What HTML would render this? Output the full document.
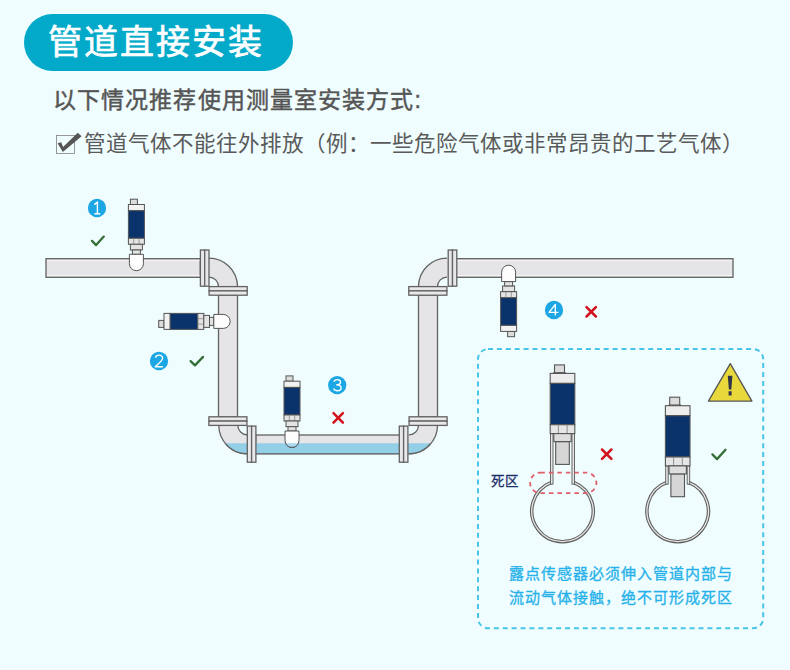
<!DOCTYPE html>
<html lang="zh-CN"><head><meta charset="utf-8">
<style>
html,body{margin:0;padding:0;}
body{width:790px;height:670px;overflow:hidden;background:#effdfe;position:relative;font-family:"Liberation Sans",sans-serif;}
.pill{position:absolute;left:24px;top:14px;width:269px;height:57px;border-radius:28.5px;background:#02a9c9;}
.t{position:absolute;white-space:nowrap;line-height:1;}
#title{left:47.5px;top:24.5px;font-size:34px;letter-spacing:2.1px;color:#fff;-webkit-text-stroke:0.7px #fff;}
#l2{left:53px;top:89px;font-size:23px;letter-spacing:1.1px;color:#555;-webkit-text-stroke:0.45px #555;}
#l3{left:84.3px;top:134px;font-size:21.5px;color:#5a5a5a;}
#dz{left:490.5px;top:474.5px;font-size:13.5px;letter-spacing:1px;color:#1b2e68;-webkit-text-stroke:0.3px #1b2e68;}
#n1{left:508.5px;top:562px;font-size:15px;letter-spacing:1.05px;color:#26b1ea;-webkit-text-stroke:0.3px #26b1ea;line-height:23.5px;}
svg{position:absolute;left:0;top:0;}
</style></head><body>
<div class="pill"></div>
<div class="t" id="title">管道直接安装</div>
<div class="t" id="l2">以下情况推荐使用测量室安装方式:</div>
<div class="t" id="l3">管道气体不能往外排放（例：一些危险气体或非常昂贵的工艺气体）</div>
<div class="t" id="dz">死区</div>
<div class="t" id="n1">露点传感器必须伸入管道内部与<br>流动气体接触，绝不可形成死区</div>
<svg width="790" height="670" viewBox="0 0 790 670">
<defs><g id="sen"><rect x="-6" y="0.5" width="7" height="5.3" fill="#dcdcdc" stroke="#555" stroke-width="1"/>
<rect x="-8" y="5.8" width="16" height="6.2" fill="#f2f2f2" stroke="#555" stroke-width="1"/>
<rect x="-8" y="12" width="16" height="27.6" fill="#0a336c" stroke="#555" stroke-width="1"/>
<rect x="-8" y="39.6" width="16" height="6" fill="#e4e4e4" stroke="#555" stroke-width="1"/>
<line x1="-2.7" y1="39.6" x2="-2.7" y2="45.6" stroke="#888" stroke-width="0.8"/>
<line x1="2.7" y1="39.6" x2="2.7" y2="45.6" stroke="#888" stroke-width="0.8"/>
<rect x="-6" y="45.6" width="12" height="5.7" fill="#e4e4e4" stroke="#555" stroke-width="1"/>
<rect x="-4" y="51.3" width="8" height="4.3" fill="#e4e4e4" stroke="#555" stroke-width="1"/>
<path d="M-7 55.6 H7 V65 A7 7 0 0 1 -7 65 Z" fill="#fdfdfd" stroke="#555" stroke-width="1"/></g><g id="senL"><path d="M-9.5 9 L-8 7.3 H2 L3.5 9 Z" fill="#999" stroke="#555" stroke-width="0.8"/>
<rect x="-8" y="0.5" width="10" height="7.8" fill="#dcdcdc" stroke="#555" stroke-width="1.1"/>
<rect x="-12.3" y="9" width="24.6" height="10" fill="#ededed" stroke="#555" stroke-width="1.1"/>
<rect x="-12.3" y="19" width="24.6" height="41.3" fill="#0a336c" stroke="#555" stroke-width="1.1"/>
<rect x="-12.3" y="60.3" width="24.6" height="8.9" fill="#e6e6e6" stroke="#555" stroke-width="1.1"/>
<line x1="-4.1" y1="60.3" x2="-4.1" y2="69.2" stroke="#888" stroke-width="0.9"/>
<line x1="4.6" y1="60.3" x2="4.6" y2="69.2" stroke="#888" stroke-width="0.9"/>
<rect x="-6.8" y="77.2" width="13.6" height="22.8" fill="#d6d6d6" stroke="#555" stroke-width="1.1"/>
<rect x="-8.7" y="69.2" width="17.4" height="8" fill="#dedede" stroke="#555" stroke-width="1.1"/></g></defs>
<rect x="56.5" y="135.5" width="18" height="18" fill="none" stroke="#808080" stroke-width="0.8"/>
<polygon points="57.6,143.3 61.2,142.2 63.1,146.9 77.7,132.8 81.6,136.2 62.8,151.9" fill="#555"/>
<rect x="46" y="258.7" width="154.3" height="18.6" fill="#e5e5e7" stroke="#626262" stroke-width="1.3"/>
<path d="M47 260.6 H200 M47 275.4 H200" stroke="#f6f6f8" stroke-width="1"/>
<rect x="455.7" y="258.7" width="277.3" height="18.6" fill="#e5e5e7" stroke="#626262" stroke-width="1.3"/>
<path d="M455.7 260.6 H732 M455.7 275.4 H732" stroke="#f6f6f8" stroke-width="1"/>
<rect x="218.5" y="295" width="19" height="122" fill="#e5e5e7" stroke="#626262" stroke-width="1.3"/>
<rect x="418.5" y="295" width="19" height="122" fill="#e5e5e7" stroke="#626262" stroke-width="1.3"/>
<rect x="255.7" y="435" width="144.60000000000002" height="18.5" fill="#e5e5e7" stroke="#626262" stroke-width="1.3"/>
<path d="M207.50 258.10 L209.00 258.10 A28.5 28.5 0 0 1 237.50 286.60 L237.50 288.10 L218.50 288.10 L218.50 286.60 A9.5 9.5 0 0 0 209.00 277.10 L207.50 277.10 Z" fill="#e5e5e7" stroke="none"/>
<path d="M209.00 258.10 A28.5 28.5 0 0 1 237.50 286.60 M218.50 286.60 A9.5 9.5 0 0 0 209.00 277.10" fill="none" stroke="#626262" stroke-width="1.3"/>
<path d="M448.50 258.10 L447.00 258.10 A28.5 28.5 0 0 0 418.50 286.60 L418.50 288.10 L437.50 288.10 L437.50 286.60 A9.5 9.5 0 0 1 447.00 277.10 L448.50 277.10 Z" fill="#e5e5e7" stroke="none"/>
<path d="M447.00 258.10 A28.5 28.5 0 0 0 418.50 286.60 M437.50 286.60 A9.5 9.5 0 0 1 447.00 277.10" fill="none" stroke="#626262" stroke-width="1.3"/>
<path d="M248.80 453.80 L247.30 453.80 A28.5 28.5 0 0 1 218.80 425.30 L218.80 423.80 L237.80 423.80 L237.80 425.30 A9.5 9.5 0 0 0 247.30 434.80 L248.80 434.80 Z" fill="#e5e5e7" stroke="none"/>
<path d="M247.30 453.80 A28.5 28.5 0 0 1 218.80 425.30 M237.80 425.30 A9.5 9.5 0 0 0 247.30 434.80" fill="none" stroke="#626262" stroke-width="1.3"/>
<path d="M407.50 453.80 L409.00 453.80 A28.5 28.5 0 0 0 437.50 425.30 L437.50 423.80 L418.50 423.80 L418.50 425.30 A9.5 9.5 0 0 1 409.00 434.80 L407.50 434.80 Z" fill="#e5e5e7" stroke="none"/>
<path d="M409.00 453.80 A28.5 28.5 0 0 0 437.50 425.30 M418.50 425.30 A9.5 9.5 0 0 1 409.00 434.80" fill="none" stroke="#626262" stroke-width="1.3"/>
<path d="M225.20 443.3 L430.80 443.3 A28.5 28.5 0 0 1 408.7 453.8 L247.3 453.8 A28.5 28.5 0 0 1 225.20 443.3 Z" fill="#93cfe7"/>
<path d="M225.20 443.3 A28.5 28.5 0 0 0 247.3 453.8 L408.7 453.8 A28.5 28.5 0 0 0 430.80 443.3" fill="none" stroke="#626262" stroke-width="1.3"/>
<rect x="200.4" y="250" width="4.3" height="36.19999999999999" fill="#e8e8ea" stroke="#626262" stroke-width="1.3"/>
<rect x="204.7" y="250" width="4.3" height="36.19999999999999" fill="#e8e8ea" stroke="#626262" stroke-width="1.3"/>
<rect x="448.2" y="250" width="4.3" height="36.19999999999999" fill="#e8e8ea" stroke="#626262" stroke-width="1.3"/>
<rect x="452.5" y="250" width="4.3" height="36.19999999999999" fill="#e8e8ea" stroke="#626262" stroke-width="1.3"/>
<rect x="209.1" y="286.6" width="38.1" height="4.3" fill="#e8e8ea" stroke="#626262" stroke-width="1.3"/>
<rect x="209.1" y="290.9" width="38.1" height="4.3" fill="#e8e8ea" stroke="#626262" stroke-width="1.3"/>
<rect x="408.8" y="286.6" width="38.1" height="4.3" fill="#e8e8ea" stroke="#626262" stroke-width="1.3"/>
<rect x="408.8" y="290.9" width="38.1" height="4.3" fill="#e8e8ea" stroke="#626262" stroke-width="1.3"/>
<rect x="208.9" y="416.8" width="38.0" height="4.3" fill="#e8e8ea" stroke="#626262" stroke-width="1.3"/>
<rect x="208.9" y="421.1" width="38.0" height="4.3" fill="#e8e8ea" stroke="#626262" stroke-width="1.3"/>
<rect x="409.1" y="416.8" width="38.0" height="4.3" fill="#e8e8ea" stroke="#626262" stroke-width="1.3"/>
<rect x="409.1" y="421.1" width="38.0" height="4.3" fill="#e8e8ea" stroke="#626262" stroke-width="1.3"/>
<rect x="247.3" y="426.1" width="4.3" height="36.099999999999966" fill="#e8e8ea" stroke="#626262" stroke-width="1.3"/>
<rect x="251.6" y="426.1" width="4.3" height="36.099999999999966" fill="#e8e8ea" stroke="#626262" stroke-width="1.3"/>
<rect x="399.3" y="426.1" width="4.3" height="36.099999999999966" fill="#e8e8ea" stroke="#626262" stroke-width="1.3"/>
<rect x="403.6" y="426.1" width="4.3" height="36.099999999999966" fill="#e8e8ea" stroke="#626262" stroke-width="1.3"/>
<use href="#sen" transform="translate(136.4 198.7)"/>
<use href="#sen" transform="translate(158.2 321.4) rotate(-90)"/>
<use href="#sen" transform="translate(292 375.4)"/>
<path d="M285.63 443.3 L298.37 443.3 A7 7 0 0 1 285.63 443.3 Z" fill="#a9d9ee" stroke="none"/>
<path d="M298.37 443.3 A7 7 0 0 1 285.63 443.3" fill="none" stroke="#555" stroke-width="1"/>
<use href="#sen" transform="translate(508.6 337.2) rotate(180)"/>
<circle cx="97" cy="208" r="9.15" fill="#1ca6e4"/><path transform="translate(97 208)" d="M-2.7 -3.4 L0.4 -5.9 V5.8 M-2.6 5.8 H3.3" fill="none" stroke="#fff" stroke-width="1.4" stroke-linejoin="round"/>
<circle cx="159" cy="361" r="9.15" fill="#1ca6e4"/><path transform="translate(159 361)" d="M-3.4 -3.2 C-3.2 -5.2 -1.6 -5.9 0 -5.9 C2.2 -5.9 3.6 -4.6 3.6 -2.8 C3.6 -0.6 1 1.4 -3.8 5.7 H3.8" fill="none" stroke="#fff" stroke-width="1.35" stroke-linejoin="round"/>
<circle cx="337.2" cy="385.1" r="9.15" fill="#1ca6e4"/><path transform="translate(337.2 385.1)" d="M-3.3 -3.4 C-2.8 -5 -1.5 -5.5 0 -5.5 C2 -5.5 3.3 -4.4 3.3 -2.9 C3.3 -1.3 1.8 -0.2 -0.6 -0.2 C2.2 -0.2 3.9 1 3.9 2.8 C3.9 4.5 2.3 5.6 0.1 5.6 C-1.6 5.6 -3.1 4.9 -3.7 3.5" fill="none" stroke="#fff" stroke-width="1.35" stroke-linejoin="round"/>
<circle cx="554" cy="310" r="9.15" fill="#1ca6e4"/><path transform="translate(554 310)" d="M1.3 5.4 V-5.6 L-4.9 2.3 H4.4" fill="none" stroke="#fff" stroke-width="1.35" stroke-linejoin="round"/>
<polyline points="92.0,240.9 96.1,245.1 103.8,236.6" fill="none" stroke="#346f38" stroke-width="2.3" stroke-linecap="round" stroke-linejoin="round"/>
<polyline points="190.6,361.1 195.0,365.4 203.0,356.9" fill="none" stroke="#346f38" stroke-width="2.3" stroke-linecap="round" stroke-linejoin="round"/>
<path d="M333.50 413.20 L342.90 422.60 M342.90 413.20 L333.50 422.60" stroke="#d3111c" stroke-width="2.5" stroke-linecap="round" fill="none"/>
<path d="M586.50 307.10 L595.90 316.50 M595.90 307.10 L586.50 316.50" stroke="#d3111c" stroke-width="2.5" stroke-linecap="round" fill="none"/>
<rect x="478" y="349.1" width="285.2" height="279.1" rx="10" fill="none" stroke="#48c4e8" stroke-width="2" stroke-dasharray="5 3.9"/>
<path d="M551.50 482.34 A30.7 30.7 0 1 0 573.50 482.34" fill="none" stroke="#5f5f5f" stroke-width="3.5"/>
<path d="M551.50 482.34 A30.7 30.7 0 1 0 573.50 482.34" fill="none" stroke="#e6e6e6" stroke-width="1.3"/>
<rect x="550.50" y="433.6" width="2.5" height="50.57" fill="#e6e6e6" stroke="#5f5f5f" stroke-width="0.95"/>
<rect x="572.00" y="433.6" width="2.5" height="50.57" fill="#e6e6e6" stroke="#5f5f5f" stroke-width="0.95"/>
<use href="#senL" transform="translate(562.5 364.4)"/>
<path d="M666.70 482.34 A30.7 30.7 0 1 0 688.70 482.34" fill="none" stroke="#5f5f5f" stroke-width="3.5"/>
<path d="M666.70 482.34 A30.7 30.7 0 1 0 688.70 482.34" fill="none" stroke="#e6e6e6" stroke-width="1.3"/>
<rect x="665.70" y="465.9" width="2.5" height="18.27" fill="#e6e6e6" stroke="#5f5f5f" stroke-width="0.95"/>
<rect x="687.20" y="465.9" width="2.5" height="18.27" fill="#e6e6e6" stroke="#5f5f5f" stroke-width="0.95"/>
<use href="#senL" transform="translate(677.7 396.7)"/>
<rect x="530.1" y="472.6" width="66.3" height="20.5" rx="10.25" fill="none" stroke="#e0606a" stroke-width="1.8" stroke-dasharray="4.5 4"/>
<path d="M602.00 449.50 L611.40 458.90 M611.40 449.50 L602.00 458.90" stroke="#d3111c" stroke-width="2.5" stroke-linecap="round" fill="none"/>
<polyline points="712.4,454.4 717.0,459.1 725.5,449.8" fill="none" stroke="#346f38" stroke-width="2.3" stroke-linecap="round" stroke-linejoin="round"/>
<path d="M730.3 363.6 L751.9 401.1 L708.4 401.1 Z" fill="#e9d83c" stroke="#555" stroke-width="1.3" stroke-linejoin="round"/>
<path d="M727.8 375.7 H732.4 L731.3 389.5 H728.9 Z M728.6 391.3 H731.6 V395.5 H728.6 Z" fill="#2e3348"/>
</svg>
</body></html>
